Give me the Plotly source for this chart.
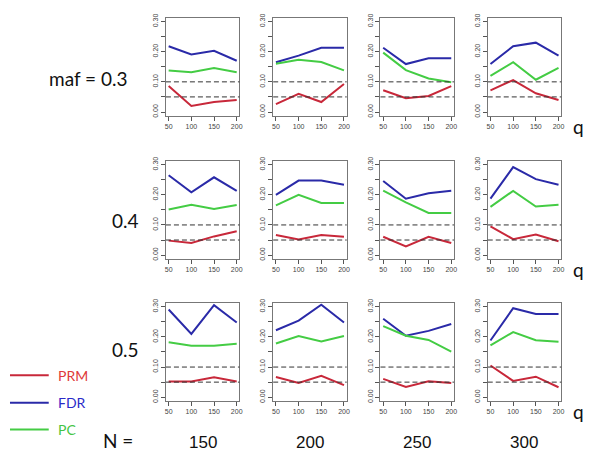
import plotly.graph_objects as go

q_vals = [50, 100, 150, 200]
maf_labels = ["maf = 0.3", "0.4", "0.5"]
n_labels = ["150", "200", "250", "300"]

# values[row][col] ; rows = maf 0.3/0.4/0.5, cols = N 150/200/250/300
PRM = [
    [[0.086, 0.020, 0.033, 0.040], [0.026, 0.060, 0.033, 0.093], [0.072, 0.046, 0.053, 0.086], [0.072, 0.106, 0.062, 0.040]],
    [[0.048, 0.040, 0.062, 0.079], [0.067, 0.052, 0.067, 0.061], [0.061, 0.029, 0.061, 0.040], [0.095, 0.053, 0.068, 0.046]],
    [[0.052, 0.052, 0.066, 0.052], [0.067, 0.047, 0.071, 0.040], [0.061, 0.034, 0.053, 0.047], [0.105, 0.054, 0.068, 0.033]],
]
FDR = [
    [[0.218, 0.191, 0.203, 0.170], [0.165, 0.187, 0.213, 0.213], [0.213, 0.159, 0.178, 0.178], [0.159, 0.218, 0.230, 0.187]],
    [[0.265, 0.208, 0.258, 0.213], [0.200, 0.247, 0.247, 0.233], [0.246, 0.187, 0.205, 0.213], [0.187, 0.292, 0.252, 0.233]],
    [[0.291, 0.210, 0.305, 0.248], [0.222, 0.254, 0.307, 0.248], [0.260, 0.204, 0.220, 0.243], [0.188, 0.295, 0.276, 0.276]],
]
PC = [
    [[0.138, 0.132, 0.146, 0.132], [0.160, 0.173, 0.166, 0.138], [0.197, 0.139, 0.111, 0.099], [0.120, 0.165, 0.107, 0.146]],
    [[0.151, 0.167, 0.153, 0.166], [0.165, 0.200, 0.173, 0.173], [0.214, 0.175, 0.140, 0.140], [0.160, 0.213, 0.161, 0.167]],
    [[0.182, 0.171, 0.171, 0.177], [0.178, 0.203, 0.185, 0.203], [0.236, 0.204, 0.190, 0.151], [0.172, 0.216, 0.189, 0.184]],
]
series = [("PRM", PRM, "#c8283a", "#e03a3a"), ("FDR", FDR, "#2a2aa8", "#2a2ac8"), ("PC", PC, "#44cc44", "#44c444")]
y_ticks = [0.0, 0.05, 0.10, 0.15, 0.20, 0.25, 0.30]
y_ticktext = ["0.00", "", "0.10", "", "0.20", "", "0.30"]
ref_lines = [0.05, 0.10]

# the page body has an 8px margin; the figure is sized to fit inside the window
OFF = 8
W, H = 592, 457


def px(x):
    return (x - OFF) / W


def py(y):
    return 1 - (y - OFF) / H


col_left = [166, 274, 382, 490]
pw = 74
row_top = [14, 159, 303]
ph = 99

fig = go.Figure()
tickfont = dict(family="Liberation Sans", size=7, color="#444")
k = 0
for r in range(3):
    for c in range(4):
        k += 1
        xa = "x" if k == 1 else f"x{k}"
        ya = "y" if k == 1 else f"y{k}"
        for name, data, col, _ in series:
            fig.add_trace(go.Scatter(x=q_vals, y=data[r][c], mode="lines", line=dict(color=col, width=2),
                                     xaxis=xa, yaxis=ya, showlegend=False, hoverinfo="skip"))
        xd = [px(col_left[c]), px(col_left[c] + pw)]
        yd = [py(row_top[r] + ph), py(row_top[r])]
        fig.layout[f"xaxis{'' if k == 1 else k}"] = dict(
            domain=xd, range=[44, 206], tickvals=q_vals, ticks="outside", ticklen=4, tickcolor="#555",
            showline=True, mirror=True, linecolor="#777", linewidth=1, showgrid=False, zeroline=False,
            tickfont=tickfont, anchor=ya, fixedrange=True)
        fig.layout[f"yaxis{'' if k == 1 else k}"] = dict(
            domain=yd, range=[-0.012, 0.312], tickvals=y_ticks, ticktext=y_ticktext, ticks="outside",
            ticklen=4, tickcolor="#555", tickangle=-90,
            showline=True, mirror=True, linecolor="#777", linewidth=1, showgrid=False, zeroline=False,
            tickfont=tickfont, anchor=xa, fixedrange=True)
        for v in ref_lines:
            fig.add_shape(type="line", xref=f"{xa} domain", yref=ya, x0=0, x1=1, y0=v, y1=v,
                          line=dict(color="#333", width=1, dash="5px,3px"))

big = dict(family="Lato", size=19, color="#111")
row_lab_pos = [(88, 75), (125, 219), (125, 350)]
for (x, y), t in zip(row_lab_pos, maf_labels):
    fig.add_annotation(text=t, x=px(x), y=py(y), xref="paper", yref="paper", showarrow=False,
                       font=big, xanchor="center", yanchor="middle")
for r in range(3):
    fig.add_annotation(text="q", x=px(581), y=py(row_top[r] + ph + 11), xref="paper", yref="paper",
                       showarrow=False, font=big, xanchor="center", yanchor="middle")
for c, t in enumerate(n_labels):
    fig.add_annotation(text=t, x=px(col_left[c] + pw / 2), y=py(444), xref="paper", yref="paper",
                       showarrow=False, font=dict(family="Liberation Sans", size=17, color="#111"),
                       xanchor="center", yanchor="middle")
fig.add_annotation(text="N =", x=px(118), y=py(442), xref="paper", yref="paper", showarrow=False,
                   font=big, xanchor="center", yanchor="middle")

leg_y = [376, 404, 431]
for (name, _, col, tcol), ly in zip(series, leg_y):
    fig.add_shape(type="line", xref="paper", yref="paper", x0=px(9), x1=px(48), y0=py(ly), y1=py(ly),
                  line=dict(color=col, width=2))
    fig.add_annotation(text=name, x=px(55), y=py(ly), xref="paper", yref="paper", showarrow=False,
                       font=dict(family="Lato", size=14, color=tcol), xanchor="left", yanchor="middle")

fig.update_layout(width=W, height=H, margin=dict(l=0, r=0, t=0, b=0), plot_bgcolor="white",
                  paper_bgcolor="white", showlegend=False)
fig.write_html("out.html")
